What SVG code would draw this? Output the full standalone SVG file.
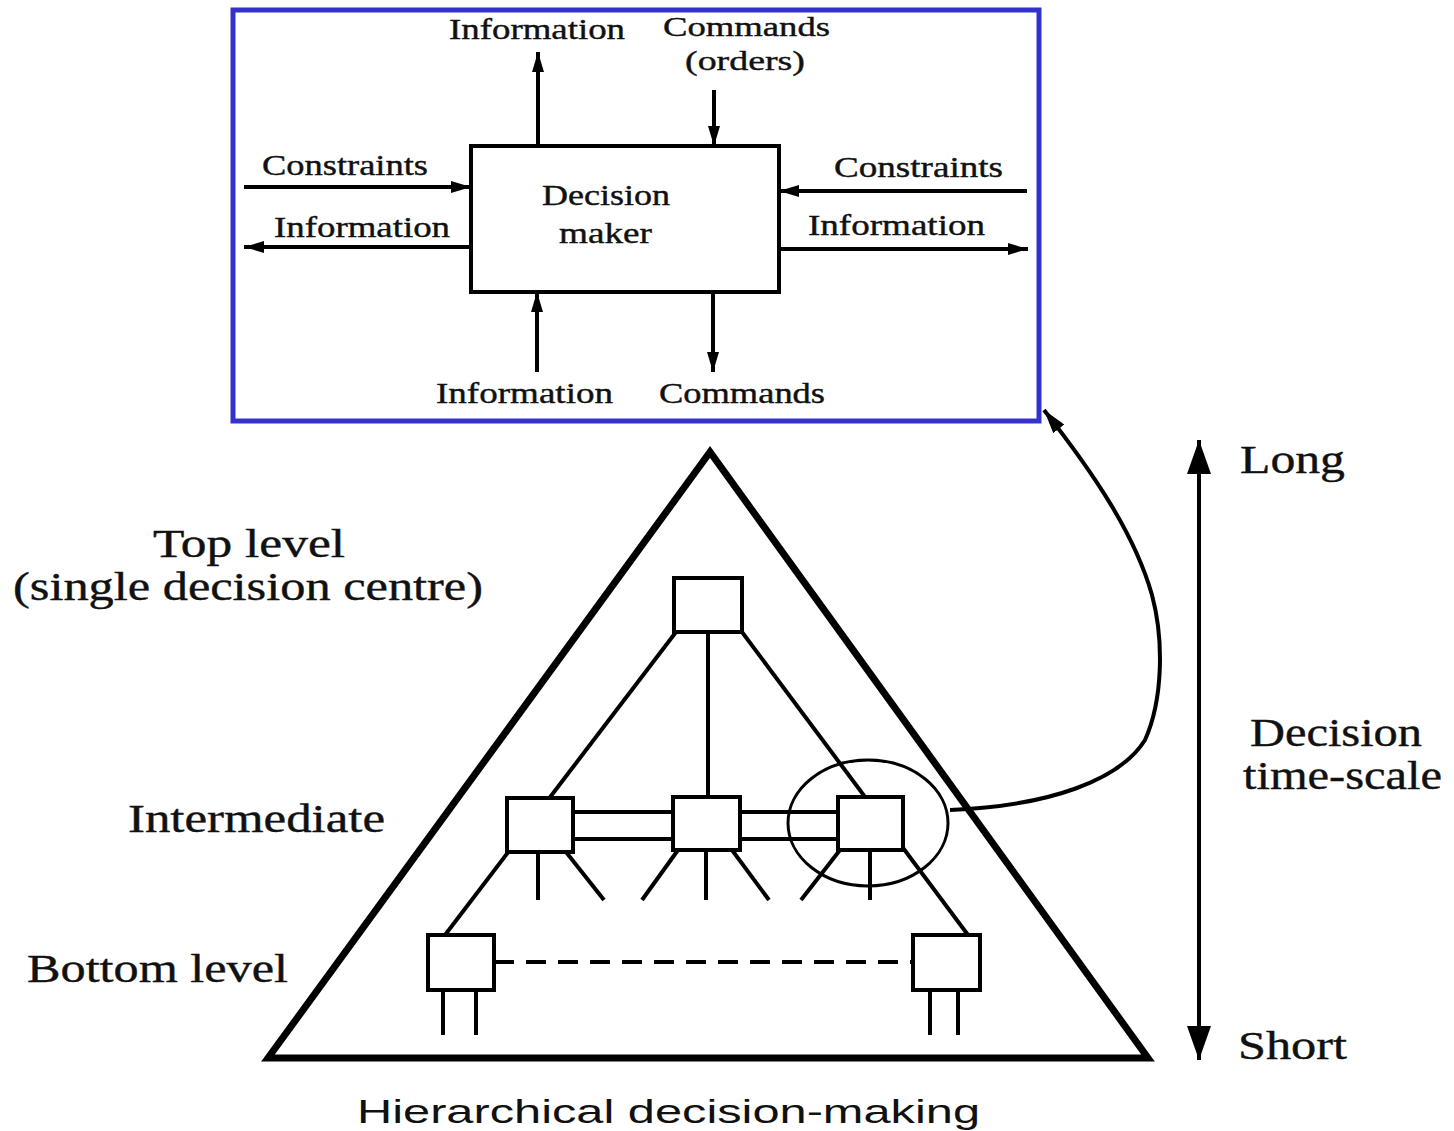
<svg xmlns="http://www.w3.org/2000/svg" width="1454" height="1131" viewBox="0 0 1454 1131">
<style>
  .ln{stroke:#000;stroke-width:4;fill:none}
  .box{fill:#fff;stroke:#000;stroke-width:4}
  .t{font-family:"Liberation Serif","Times New Roman",serif;fill:#111;stroke:#111;stroke-width:0.4}
  .s28{font-size:28px}
  .s30{font-size:30px}
  .s40{font-size:40px}
  .cap{font-family:"Liberation Sans",Arial,sans-serif;font-size:34px;fill:#111}
</style>
<defs>
  <marker id="ah" markerUnits="userSpaceOnUse" markerWidth="20" markerHeight="12" refX="20" refY="6" orient="auto">
    <path d="M0,0 L20,6 L0,12 z" fill="#000"/>
  </marker>
  <marker id="ahc" markerUnits="userSpaceOnUse" markerWidth="24" markerHeight="14" refX="24" refY="7" orient="auto">
    <path d="M0,0 L24,7 L0,14 z" fill="#000"/>
  </marker>
  <marker id="big" markerUnits="userSpaceOnUse" markerWidth="34" markerHeight="24" refX="34" refY="12" orient="auto">
    <path d="M0,0 L34,12 L0,24 z" fill="#000"/>
  </marker>
</defs>
<rect width="1454" height="1131" fill="#fff"/>

<!-- inset frame -->
<rect id="inset-frame" x="233" y="10" width="806" height="411" fill="none" stroke="#3333cc" stroke-width="5"/>

<g id="connectors">
  <!-- inset arrows -->
  <line class="ln" x1="538" y1="146" x2="538" y2="52" marker-end="url(#ah)"/>
  <line class="ln" x1="714" y1="90" x2="714" y2="146" marker-end="url(#ah)"/>
  <line class="ln" x1="537" y1="372" x2="537" y2="292" marker-end="url(#ah)"/>
  <line class="ln" x1="713" y1="292" x2="713" y2="372" marker-end="url(#ah)"/>
  <line class="ln" x1="244" y1="187" x2="471" y2="187" marker-end="url(#ah)"/>
  <line class="ln" x1="471" y1="247" x2="244" y2="247" marker-end="url(#ah)"/>
  <line class="ln" x1="1027" y1="191" x2="779" y2="191" marker-end="url(#ah)"/>
  <line class="ln" x1="779" y1="249" x2="1028" y2="249" marker-end="url(#ah)"/>

  <!-- hierarchy links -->
  <line class="ln" x1="676" y1="632" x2="445" y2="935"/>
  <line class="ln" x1="742" y1="632" x2="968" y2="935"/>
  <line class="ln" x1="708" y1="632" x2="708" y2="797"/>
  <line class="ln" stroke-width="5" x1="573" y1="812" x2="838" y2="812"/>
  <line class="ln" stroke-width="5" x1="573" y1="839" x2="838" y2="839"/>
  <line class="ln" stroke-dasharray="20,12" x1="494" y1="962" x2="913" y2="962"/>

  <!-- legs -->
  <line class="ln" x1="538" y1="852" x2="538" y2="900"/>
  <line class="ln" x1="566" y1="852" x2="604" y2="900"/>
  <line class="ln" x1="678" y1="850" x2="642" y2="900"/>
  <line class="ln" x1="706" y1="850" x2="706" y2="900"/>
  <line class="ln" x1="732" y1="850" x2="769" y2="900"/>
  <line class="ln" x1="840" y1="850" x2="801" y2="900"/>
  <line class="ln" x1="870" y1="850" x2="870" y2="900"/>
  <line class="ln" x1="443" y1="990" x2="443" y2="1035"/>
  <line class="ln" x1="476" y1="990" x2="476" y2="1035"/>
  <line class="ln" x1="930" y1="990" x2="930" y2="1035"/>
  <line class="ln" x1="958" y1="990" x2="958" y2="1035"/>

  <!-- zoom link curve -->
  <path class="ln" stroke-width="3" d="M 950 810 C 1050 806, 1120 780, 1145 740 C 1163 700, 1164 640, 1152 595 C 1135 535, 1095 475, 1044 410" marker-end="url(#ahc)"/>

  <!-- time-scale arrow -->
  <line class="ln" stroke-width="3" x1="1199" y1="760" x2="1199" y2="440" marker-end="url(#big)"/>
  <line class="ln" stroke-width="3" x1="1199" y1="760" x2="1199" y2="1060" marker-end="url(#big)"/>
</g>

<!-- pyramid -->
<polygon id="pyramid" points="710,452 268,1058 1148,1058" fill="none" stroke="#000" stroke-width="7" stroke-linejoin="miter"/>

<g id="decision-maker">
  <rect class="box" x="471" y="146" width="308" height="146" stroke-width="3.5"/>
  <text class="t s30" x="542" y="205" textLength="128" lengthAdjust="spacingAndGlyphs">Decision</text>
  <text class="t s30" x="559" y="243" textLength="93" lengthAdjust="spacingAndGlyphs">maker</text>
</g>

<g id="inset-labels">
  <text class="t s30" x="449" y="39" textLength="176" lengthAdjust="spacingAndGlyphs">Information</text>
  <text class="t s28" x="663" y="36" textLength="167" lengthAdjust="spacingAndGlyphs">Commands</text>
  <text class="t s28" x="685" y="70" textLength="120" lengthAdjust="spacingAndGlyphs">(orders)</text>
  <text class="t s30" x="262" y="175" textLength="166" lengthAdjust="spacingAndGlyphs">Constraints</text>
  <text class="t s30" x="274" y="237" textLength="176" lengthAdjust="spacingAndGlyphs">Information</text>
  <text class="t s30" x="834" y="177" textLength="169" lengthAdjust="spacingAndGlyphs">Constraints</text>
  <text class="t s30" x="808" y="235" textLength="177" lengthAdjust="spacingAndGlyphs">Information</text>
  <text class="t s30" x="436" y="403" textLength="177" lengthAdjust="spacingAndGlyphs">Information</text>
  <text class="t s30" x="659" y="403" textLength="166" lengthAdjust="spacingAndGlyphs">Commands</text>
</g>

<g id="node-top"><rect class="box" x="674" y="578" width="68" height="54"/></g>
<g id="node-int-left"><rect class="box" x="507" y="798" width="66" height="54"/></g>
<g id="node-int-mid"><rect class="box" x="673" y="797" width="67" height="53"/></g>
<g id="node-int-right"><rect class="box" x="838" y="797" width="65" height="53"/></g>
<g id="node-bot-left"><rect class="box" x="428" y="935" width="66" height="55"/></g>
<g id="node-bot-right"><rect class="box" x="913" y="935" width="67" height="55"/></g>

<g id="focus-circle">
  <ellipse cx="868" cy="823" rx="80" ry="63" fill="none" stroke="#000" stroke-width="3"/>
</g>

<g id="level-labels">
  <text class="t s40" x="153" y="557" textLength="192" lengthAdjust="spacingAndGlyphs">Top level</text>
  <text class="t s40" x="13" y="600" textLength="470" lengthAdjust="spacingAndGlyphs">(single decision centre)</text>
  <text class="t s40" x="128" y="832" textLength="257" lengthAdjust="spacingAndGlyphs">Intermediate</text>
  <text class="t s40" x="27" y="982" textLength="261" lengthAdjust="spacingAndGlyphs">Bottom level</text>
</g>

<g id="scale-labels">
  <text class="t s40" x="1240" y="473" textLength="105" lengthAdjust="spacingAndGlyphs">Long</text>
  <text class="t s40" x="1250" y="746" textLength="172" lengthAdjust="spacingAndGlyphs">Decision</text>
  <text class="t s40" x="1243" y="789" textLength="199" lengthAdjust="spacingAndGlyphs">time-scale</text>
  <text class="t s40" x="1238" y="1059" textLength="109" lengthAdjust="spacingAndGlyphs">Short</text>
</g>

<text class="cap" x="357" y="1123" textLength="623" lengthAdjust="spacingAndGlyphs">Hierarchical decision-making</text>
</svg>
